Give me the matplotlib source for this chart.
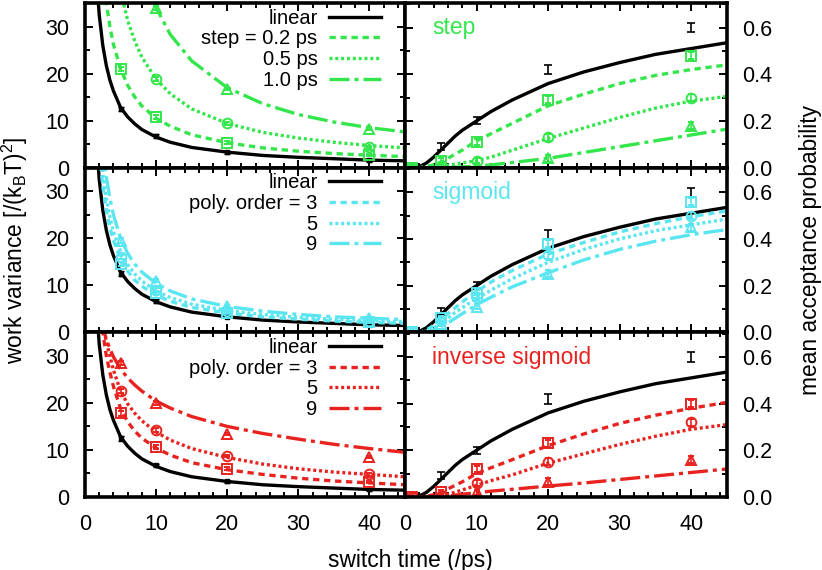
import numpy as np
import matplotlib
matplotlib.use('Agg')
from matplotlib import pyplot as plt

plt.rcParams['font.family'] = ['Liberation Sans', 'DejaVu Sans']
plt.rcParams['mathtext.fontset'] = 'custom'
plt.rcParams['mathtext.rm'] = 'Liberation Sans'
plt.rcParams['mathtext.it'] = 'Liberation Sans:italic'

green = '#33e64b'
cyan = '#5ae6f0'
red = '#e8231f'

# ---- measured points ----
t_var = [5, 10, 20, 40]
t_acc = [1, 5, 10, 20, 40]
t_acc_lin = [5, 10, 20, 40]

var_lin = [12.5, 6.7, 3.3, 1.6]
acc_lin = [0.09, 0.20, 0.42, 0.60]
acc_lin_err = [0.015, 0.015, 0.02, 0.02]

# step
var_step_02 = [21.0, 10.7, 5.3, 2.7]
var_step_05 = [37.5, 18.8, 9.4, 4.4]
var_step_10 = [68.0, 34.0, 16.8, 8.3]
acc_step_02 = [0.0, 0.03, 0.11, 0.29, 0.48]
acc_step_05 = [0.0, 0.005, 0.03, 0.13, 0.30]
acc_step_10 = [0.0, 0.0, 0.005, 0.04, 0.18]

# sigmoid
var_sig_3 = [14.5, 8.3, 4.2, 2.2]
var_sig_5 = [16.0, 9.0, 4.6, 2.5]
var_sig_9 = [19.5, 11.0, 5.5, 3.0]
acc_sig_3 = [0.0, 0.06, 0.17, 0.38, 0.56]
acc_sig_5 = [0.0, 0.05, 0.15, 0.33, 0.50]
acc_sig_9 = [0.0, 0.035, 0.11, 0.25, 0.45]

# inverse sigmoid
var_inv_3 = [17.8, 10.7, 6.0, 3.2]
var_inv_5 = [22.5, 14.3, 8.7, 4.8]
var_inv_9 = [28.5, 20.0, 13.4, 8.5]
acc_inv_3 = [0.0, 0.02, 0.12, 0.23, 0.40]
acc_inv_5 = [0.0, 0.005, 0.06, 0.15, 0.32]
acc_inv_9 = [0.0, 0.0, 0.02, 0.065, 0.16]

var_err = [0.5, 0.4, 0.3, 0.3]
acc_err = [0.005, 0.01, 0.012, 0.015, 0.015]

# ---- fitted curves ----
tc = [1.5, 2, 2.5, 3, 3.5, 4, 5, 6, 7, 8, 10, 12, 15, 20, 25, 30, 35, 40, 45]
fit_var_lin = [43, 32.5, 26, 21.7, 18.6, 16.3, 12.8, 10.8, 9.3, 8.1, 6.5, 5.4, 4.3, 3.3, 2.6, 2.2, 1.9, 1.6, 1.45]
fit_var_step_02 = [70, 52, 42, 35, 30, 26.2, 21, 17.5, 15, 13.1, 10.5, 8.8, 7, 5.3, 4.2, 3.5, 3, 2.65, 2.35]
fit_var_step_05 = [125, 94, 75, 63, 54, 47, 37.6, 31.3, 26.9, 23.5, 18.8, 15.7, 12.5, 9.4, 7.5, 6.3, 5.4, 4.7, 4.2]
fit_var_step_10 = [227, 170, 136, 113, 97, 85, 68, 56.7, 48.6, 42.5, 34, 28.3, 22.7, 17, 13.6, 11.3, 9.7, 8.5, 7.6]
fit_var_sig_3 = [52, 39, 31, 26, 22.3, 19.5, 15.6, 13, 11.1, 9.8, 7.9, 6.6, 5.3, 4.1, 3.3, 2.8, 2.4, 2.1, 1.9]
fit_var_sig_5 = [57, 43, 34, 28.5, 24.5, 21.4, 17.2, 14.4, 12.4, 10.9, 8.8, 7.4, 6, 4.6, 3.8, 3.2, 2.8, 2.5, 2.3]
fit_var_sig_9 = [62, 48, 39, 33, 28.5, 25, 20, 16.8, 14.5, 12.8, 10.4, 8.8, 7.1, 5.5, 4.5, 3.8, 3.3, 3.0, 2.7]
fit_var_inv_3 = [52, 42, 35, 30, 26.5, 23.5, 18.8, 16, 14, 12.5, 10.4, 8.9, 7.3, 5.8, 4.8, 4, 3.4, 3.0, 2.6]
fit_var_inv_5 = [50, 42, 37, 33, 30, 27, 22.5, 19.8, 17.8, 16.2, 13.8, 12.1, 10.3, 8.4, 7, 6, 5.3, 4.8, 4.3]
fit_var_inv_9 = [45, 40, 36, 33.5, 31.5, 29.8, 27.2, 25.3, 23.8, 22.5, 20.4, 18.9, 17.1, 15, 13.5, 12.3, 11.2, 10.3, 9.5]

tr = [1.7, 2, 3, 4, 5, 6, 7, 8, 10, 12, 15, 20, 25, 30, 35, 40, 45]
fit_acc_lin = [0, 0.004, 0.02, 0.045, 0.075, 0.105, 0.135, 0.16, 0.2, 0.24, 0.29, 0.36, 0.41, 0.45, 0.485, 0.51, 0.535]
fit_acc_step_02 = [0, 0, 0.005, 0.012, 0.022, 0.04, 0.058, 0.075, 0.115, 0.145, 0.19, 0.265, 0.315, 0.36, 0.395, 0.42, 0.44]
fit_acc_step_05 = [0, 0, 0, 0, 0.005, 0.01, 0.015, 0.02, 0.03, 0.045, 0.075, 0.125, 0.17, 0.215, 0.255, 0.285, 0.305]
fit_acc_step_10 = [0, 0, 0, 0, 0, 0.001, 0.002, 0.003, 0.006, 0.012, 0.022, 0.04, 0.065, 0.09, 0.115, 0.14, 0.165]
fit_acc_sig_3 = [0, 0, 0.01, 0.03, 0.055, 0.08, 0.105, 0.13, 0.175, 0.215, 0.265, 0.335, 0.385, 0.43, 0.465, 0.495, 0.52]
fit_acc_sig_5 = [0, 0, 0.005, 0.02, 0.04, 0.06, 0.085, 0.105, 0.145, 0.18, 0.23, 0.30, 0.355, 0.40, 0.435, 0.46, 0.485]
fit_acc_sig_9 = [0, 0, 0, 0.01, 0.025, 0.04, 0.06, 0.08, 0.118, 0.15, 0.195, 0.255, 0.31, 0.355, 0.39, 0.418, 0.44]
fit_acc_inv_3 = [0, 0, 0.003, 0.01, 0.02, 0.035, 0.05, 0.065, 0.1, 0.125, 0.16, 0.22, 0.27, 0.315, 0.35, 0.38, 0.405]
fit_acc_inv_5 = [0, 0, 0, 0.002, 0.005, 0.012, 0.02, 0.03, 0.05, 0.07, 0.095, 0.145, 0.185, 0.225, 0.26, 0.29, 0.31]
fit_acc_inv_9 = [0, 0, 0, 0, 0, 0.004, 0.008, 0.012, 0.018, 0.025, 0.033, 0.047, 0.06, 0.075, 0.09, 0.105, 0.12]

rows = [
    ('step', green, ['step = 0.2 ps', '0.5 ps', '1.0 ps'],
     [var_step_02, var_step_05, var_step_10], [acc_step_02, acc_step_05, acc_step_10],
     [fit_var_step_02, fit_var_step_05, fit_var_step_10], [fit_acc_step_02, fit_acc_step_05, fit_acc_step_10]),
    ('sigmoid', cyan, ['poly. order = 3', '5', '9'],
     [var_sig_3, var_sig_5, var_sig_9], [acc_sig_3, acc_sig_5, acc_sig_9],
     [fit_var_sig_3, fit_var_sig_5, fit_var_sig_9], [fit_acc_sig_3, fit_acc_sig_5, fit_acc_sig_9]),
    ('inverse sigmoid', red, ['poly. order = 3', '5', '9'],
     [var_inv_3, var_inv_5, var_inv_9], [acc_inv_3, acc_inv_5, acc_inv_9],
     [fit_var_inv_3, fit_var_inv_5, fit_var_inv_9], [fit_acc_inv_3, fit_acc_inv_5, fit_acc_inv_9]),
]

styles = [(0, (1.9, 1.4)), (0, (0.9, 0.85)), (0, (6, 1.5, 1.2, 1.5))]
markers = ['s', 'o', '^']
lw = 2.4
fs_tick = 15.5
fs_lab = 16.4

W, H = 822, 570
fig = plt.figure(figsize=(W / 100, H / 100), dpi=100)
x0, xm, x1 = 85, 405, 727
y_top, y_bot = 3, 497
ph = (y_bot - y_top) / 3


def style_axes(ax, ymax, ymajor, yminor, right):
    ax.set_xlim(0, 45)
    ax.set_ylim(0, ymax)
    ax.set_xticks(np.arange(0, 41, 10))
    ax.set_xticks(np.arange(0, 46, 2), minor=True)
    ax.set_yticks(np.arange(0, ymax - 1e-9, ymajor))
    ax.set_yticks(np.arange(0, ymax + 1e-9, yminor), minor=True)
    ax.tick_params(which='both', direction='in', top=True, bottom=True, left=True, right=True,
                   width=1.4, labelsize=fs_tick)
    ax.tick_params(which='major', length=6)
    ax.tick_params(which='minor', length=3.5)
    ax.tick_params(axis='y', which='major', pad=11)
    ax.tick_params(axis='x', which='major', pad=12)
    if right:
        ax.tick_params(labelleft=False, labelright=True)
    for s in ax.spines.values():
        s.set_linewidth(2.6)


for i, (name, col, labels, var_pts, acc_pts, var_fits, acc_fits) in enumerate(rows):
    yb = 1 - (y_top + (i + 1) * ph) / H
    axl = fig.add_axes([x0 / W, yb, (xm - x0) / W, ph / H])
    axr = fig.add_axes([xm / W, yb, (x1 - xm) / W, ph / H])

    # left: work variance
    axl.plot(tc, fit_var_lin, color='black', lw=lw, label='linear')
    axl.errorbar(t_var, var_lin, yerr=var_err, fmt='s', color='black', ms=3.5,
                 capsize=2, elinewidth=1.0)
    for k in range(3):
        axl.plot(tc, var_fits[k], color=col, lw=lw, linestyle=styles[k], label=labels[k])
        axl.errorbar(t_var, var_pts[k], yerr=var_err, fmt=markers[k], color=col, mfc='none',
                     ms=7, mew=1.4, capsize=2.5, elinewidth=1.2)
    style_axes(axl, 35, 10, 5, False)
    if i < 2:
        axl.tick_params(labelbottom=False)
    leg = axl.legend(loc='upper right', bbox_to_anchor=(0.925, 0.965), frameon=False,
                     markerfirst=False, fontsize=14.5, handlelength=2.6, handletextpad=0.55,
                     labelspacing=0.08, borderaxespad=0, borderpad=0)
    for c in leg._legend_handle_box.get_children():
        c.align = 'right'

    # right: acceptance probability
    axr.plot(tr, fit_acc_lin, color='black', lw=lw)
    axr.errorbar(t_acc_lin, acc_lin, yerr=acc_lin_err, fmt='none', ecolor='black',
                 capsize=3, elinewidth=1.2, capthick=1.2)
    for k in range(3):
        axr.plot(tr, acc_fits[k], color=col, lw=lw, linestyle=styles[k])
        axr.errorbar(t_acc, acc_pts[k], yerr=acc_err, fmt=markers[k], color=col, mfc='none',
                     ms=7, mew=1.4, capsize=2.5, elinewidth=1.2)
    style_axes(axr, 0.705, 0.2, 0.1, True)
    axr.yaxis.set_major_formatter(plt.FormatStrFormatter('%.1f'))
    if i < 2:
        axr.tick_params(labelbottom=False)
    axr.text(0.085, 0.85, name, color=col, fontsize=16.5, transform=axr.transAxes,
             ha='left', va='center')

fig.text(15 / W, 1 - 250 / H, r'work variance [/(k$_\mathrm{B}$T)$^2$]', rotation=90,
         ha='center', va='center', fontsize=fs_lab)
fig.text(810 / W, 1 - 250 / H, 'mean acceptance probability', rotation=90,
         ha='center', va='center', fontsize=fs_lab)
fig.text(410 / W, 1 - 560 / H, 'switch time (/ps)', ha='center', va='center', fontsize=fs_lab)

fig.savefig('out.png', dpi=100)
